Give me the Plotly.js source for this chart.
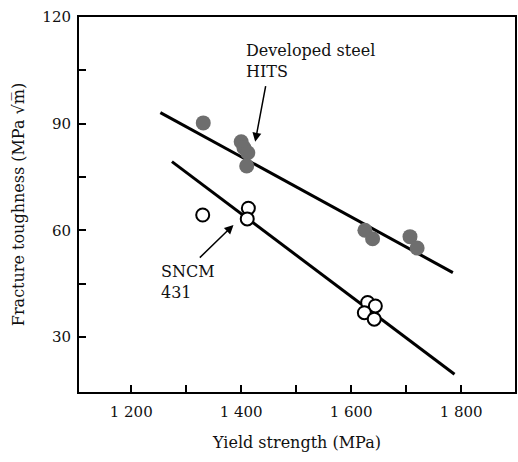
<!DOCTYPE html>
<html><head><meta charset="utf-8">
<script src="https://cdn.plot.ly/plotly-3.0.1.min.js"></script>
<style>html,body{margin:0;padding:0;background:#fff}#chart{width:518px;height:462px}</style>
</head><body><div id="chart"></div>
<script>
// Developed steel HITS (filled)
const hitsX = [1331, 1400, 1405, 1412, 1410, 1625, 1639, 1707, 1720];
const hitsY = [90.2, 84.9, 83.2, 81.8, 78.1, 60.0, 57.6, 58.2, 55.0];
// SNCM 431 (open)
const sncmX = [1330, 1413, 1411, 1630, 1644, 1624, 1642];
const sncmY = [64.3, 66.2, 63.2, 39.7, 38.7, 36.8, 35.0];
// fitted trend lines (end points)
const hitsFitX = [1253, 1785];
const hitsFitY = [93.1, 48.1];
const sncmFitX = [1274, 1788];
const sncmFitY = [79.3, 19.5];
const xTicks = [1200, 1300, 1400, 1500, 1600, 1700, 1800];
const xTickText = ['1 200', '', '1 400', '', '1 600', '', '1 800'];
const yTicks = [30, 45, 60, 75, 90, 105, 120];
const yTickText = ['30', '', '60', '', '90', '', '120'];

const fam = '"DejaVu Serif", serif';
const font = {family: fam, color: '#111', size: 15};
const traces = [
  {x: hitsFitX, y: hitsFitY, mode: 'lines', line: {color: '#000', width: 3}, hoverinfo: 'skip'},
  {x: sncmFitX, y: sncmFitY, mode: 'lines', line: {color: '#000', width: 3}, hoverinfo: 'skip'},
  {x: hitsX, y: hitsY, mode: 'markers', marker: {size: 15, color: '#6e6e6e', line: {width: 0}}},
  {x: sncmX, y: sncmY, mode: 'markers', marker: {size: 13, color: '#fff', line: {width: 2, color: '#000'}}}
];
const layout = {
  width: 518, height: 462,
  margin: {l: 79, r: 3, t: 17, b: 70},
  showlegend: false,
  paper_bgcolor: '#fff', plot_bgcolor: '#fff',
  font: font,
  xaxis: {
    range: [1105, 1898], tickvals: xTicks, ticktext: xTickText,
    ticks: 'inside', ticklen: 7, tickwidth: 2, tickcolor: '#000',
    showline: true, linewidth: 2, linecolor: '#000', mirror: true,
    showgrid: false, zeroline: false, ticklabelstandoff: 5,
    tickfont: {size: 15, family: fam, color: '#111'},
    title: {text: 'Yield strength (MPa)', font: {size: 16, family: fam, color: '#111'}, standoff: 17}
  },
  yaxis: {
    range: [14.5, 120], tickvals: yTicks, ticktext: yTickText,
    ticks: 'inside', ticklen: 7, tickwidth: 2, tickcolor: '#000',
    showline: true, linewidth: 2, linecolor: '#000', mirror: true,
    showgrid: false, zeroline: false, ticklabelstandoff: 3,
    tickfont: {size: 15, family: fam, color: '#111'},
    title: {text: 'Fracture toughness (MPa √m̅)', font: {size: 16, family: fam, color: '#111'}, standoff: 14}
  },
  annotations: [
    {x: 1425.5, y: 84.9, ax: 1445, ay: 101, axref: 'x', ayref: 'y', xref: 'x', yref: 'y',
     showarrow: true, arrowhead: 2, arrowsize: 1.2, arrowwidth: 1.5, arrowcolor: '#000', text: ''},
    {x: 1386, y: 61.5, ax: 1322, ay: 51.9, axref: 'x', ayref: 'y', xref: 'x', yref: 'y',
     showarrow: true, arrowhead: 2, arrowsize: 1.2, arrowwidth: 1.5, arrowcolor: '#000', text: ''},
    {x: 1405, y: 107.5, xref: 'x', yref: 'y', xanchor: 'left', yanchor: 'middle', showarrow: false,
     align: 'left', text: 'Developed steel<br>HITS', font: {size: 16, family: fam, color: '#111'}},
    {x: 1250, y: 45.5, xref: 'x', yref: 'y', xanchor: 'left', yanchor: 'middle', showarrow: false,
     align: 'left', text: 'SNCM<br>431', font: {size: 16, family: fam, color: '#111'}}
  ]
};
Plotly.newPlot('chart', traces, layout, {displayModeBar: false, staticPlot: true});
</script></body></html>
